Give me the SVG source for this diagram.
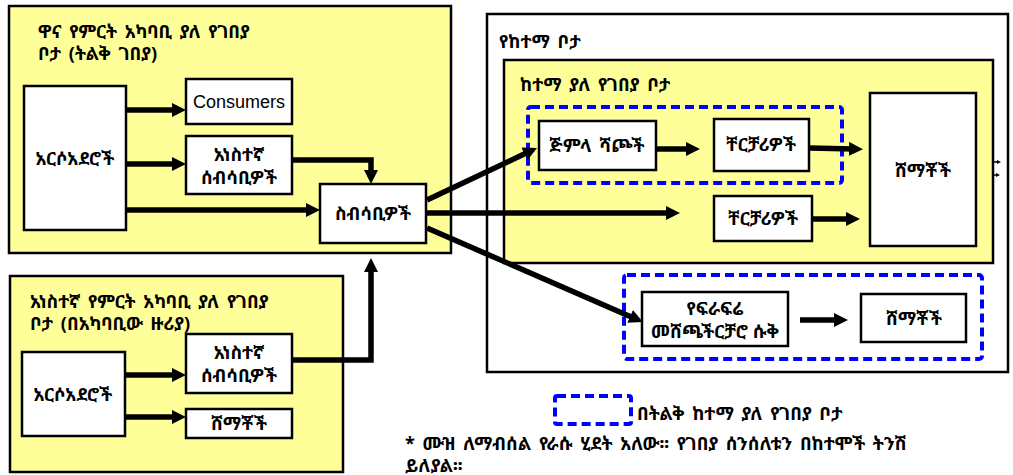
<svg xmlns="http://www.w3.org/2000/svg" width="1013" height="475" viewBox="0 0 1013 475">
<style>
.area{fill:#FFFF99;stroke:#000;stroke-width:2.5}
.box{fill:#fff;stroke:#000;stroke-width:2.5}
.dash{fill:none;stroke:#0000FF;stroke-width:4;stroke-dasharray:9 5}
.t{font-family:"Noto Sans Ethiopic","Abyssinica SIL","Noto Serif Ethiopic","DejaVu Sans","Noto Sans",sans-serif;font-size:18px;font-weight:bold;fill:#000}
.c{text-anchor:middle}
.ws{word-spacing:3px}
.en{font-family:"Liberation Sans",Arial,sans-serif;font-size:18px;fill:#000}
.ar{fill:none;stroke:#000;stroke-width:5.5;marker-end:url(#ah)}
</style>
<defs>
<marker id="ah" viewBox="0 -7 14 14" markerUnits="userSpaceOnUse" markerWidth="14" markerHeight="14" refX="5" refY="0" orient="auto">
<path d="M0,-7 L14,0 L0,7 z" fill="#000"/>
</marker>
</defs>

<g id="area-main">
<rect class="area" x="9" y="6" width="442" height="247"/>
<text class="t ws" x="38" y="38">ዋና የምርት አካባቢ ያለ የገበያ</text>
<text class="t ws" x="38" y="60">ቦታ (ትልቅ ገበያ)</text>
</g>
<g id="area-small">
<rect class="area" x="10" y="276" width="333" height="196"/>
<text class="t ws" x="30" y="308">አነስተኛ የምርት አካባቢ ያለ የገበያ</text>
<text class="t ws" x="30" y="330">ቦታ (በአካባቢው ዙሪያ)</text>
</g>
<g id="area-city">
<rect x="487" y="14" width="521" height="358" fill="#fff" stroke="#000" stroke-width="2.5"/>
<text class="t ws" x="499" y="48">የከተማ ቦታ</text>
</g>
<g id="area-city-market">
<rect class="area" x="504" y="60" width="489" height="203"/>
<text class="t ws" x="520" y="91">ከተማ ያለ የገበያ ቦታ</text>
</g>
<g id="bigcity-1"><rect class="dash" x="528" y="107" width="314" height="76" rx="3"/></g>
<g id="bigcity-2"><rect class="dash" x="624" y="275" width="358" height="84" rx="3"/></g>

<g id="farmers-1">
<rect class="box" x="24" y="86" width="102" height="144"/>
<text class="t c" x="75" y="165">አርሶአደሮች</text>
</g>
<g id="consumers-en">
<rect class="box" x="186" y="79" width="106" height="45"/>
<text class="en c" x="239" y="108">Consumers</text>
</g>
<g id="small-collectors-1">
<rect class="box" x="186" y="136" width="106" height="58"/>
<text class="t c" x="239" y="161">አነስተኛ</text>
<text class="t c" x="239" y="184">ሰብሳቢዎች</text>
</g>
<g id="collectors">
<rect class="box" x="320" y="184" width="106" height="59"/>
<text class="t c" x="373" y="220">ስብሳቢዎች</text>
</g>
<g id="farmers-2">
<rect class="box" x="22" y="352" width="103" height="84"/>
<text class="t c" x="73" y="401">አርሶአደሮች</text>
</g>
<g id="small-collectors-2">
<rect class="box" x="186" y="334" width="106" height="59"/>
<text class="t c" x="239" y="359">አነስተኛ</text>
<text class="t c" x="239" y="382">ሰብሳቢዎች</text>
</g>
<g id="consumers-2">
<rect class="box" x="186" y="409" width="106" height="29"/>
<text class="t c" x="239" y="430">ሸማቾች</text>
</g>
<g id="wholesalers">
<rect class="box" x="539" y="121" width="117" height="49"/>
<text class="t c ws" x="597" y="152">ጅምላ ሻጮች</text>
</g>
<g id="retailers-1">
<rect class="box" x="714" y="119" width="95" height="52"/>
<text class="t c" x="761" y="151">ቸርቻሪዎች</text>
</g>
<g id="retailers-2">
<rect class="box" x="714" y="196" width="98" height="45"/>
<text class="t c" x="763" y="225">ቸርቻሪዎች</text>
</g>
<g id="consumers-city">
<rect class="box" x="870" y="93" width="106" height="153"/>
<text class="t c" x="923" y="177">ሸማቾች</text>
</g>
<g id="fruit-shop">
<rect class="box" x="642" y="292" width="146" height="54"/>
<text class="t c" x="715" y="315">የፍራፍሬ</text>
<text class="t c" x="715" y="338">መሸጫችርቻሮ ሱቅ</text>
</g>
<g id="consumers-3">
<rect class="box" x="861" y="294" width="105" height="48"/>
<text class="t c" x="914" y="325">ሸማቾች</text>
</g>

<g id="connectors">
<line class="ar" x1="126" y1="110" x2="177" y2="110"/>
<line class="ar" x1="126" y1="164" x2="177" y2="164"/>
<line class="ar" x1="126" y1="210" x2="311" y2="210"/>
<polyline class="ar" points="292,160 371,160 371,175"/>
<line class="ar" x1="125" y1="375" x2="177" y2="375"/>
<line class="ar" x1="125" y1="417" x2="177" y2="417"/>
<polyline class="ar" points="292,360 371,360 371,267"/>
<line class="ar" x1="427" y1="200" x2="528.9" y2="151.8"/>
<line class="ar" x1="426" y1="213" x2="671" y2="213"/>
<line class="ar" x1="427" y1="228" x2="634.7" y2="318.4"/>
<line class="ar" x1="656" y1="149" x2="691" y2="149"/>
<line class="ar" x1="809" y1="148" x2="854" y2="149"/>
<line class="ar" x1="812" y1="219" x2="851" y2="219"/>
<line class="ar" x1="800" y1="320" x2="839" y2="320"/>
<path d="M993,167 L993,162 L998,162 M993,175 L997,175" fill="none" stroke="#000" stroke-width="1.5"/>
<path d="M997,160 L1001,162 L997,164 z M996,173 L1000,175 L996,177 z" fill="#000"/>
</g>

<g id="legend">
<rect class="dash" x="555" y="396" width="76" height="28" rx="2"/>
<text class="t ws" x="637" y="420">በትልቅ ከተማ ያለ የገበያ ቦታ</text>
</g>
<g id="footnote">
<text class="t ws" x="405" y="450">* ሙዝ ለማብሰል የራሱ ሂደት አለው፡፡ የገበያ ሰንሰለቱን በከተሞች ትንሽ</text>
<text class="t ws" x="405" y="472">ይለያል፡፡</text>
</g>
</svg>
